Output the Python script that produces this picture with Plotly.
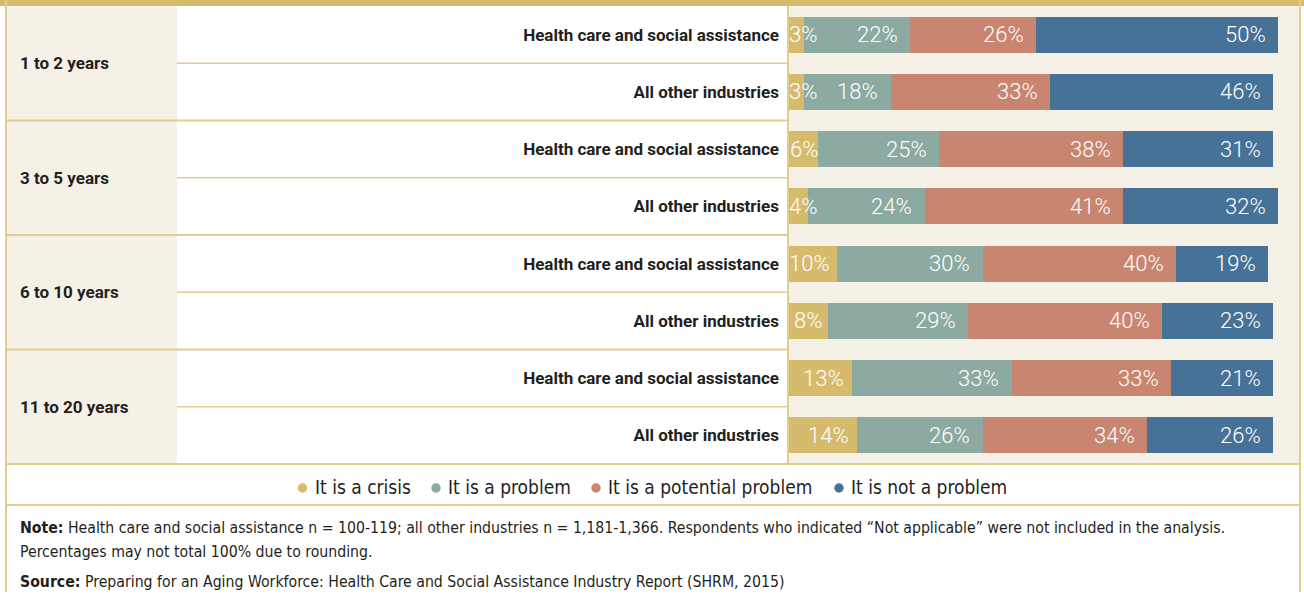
import plotly.graph_objects as go

# ---------------- data ----------------
groups = ["1 to 2 years", "3 to 5 years", "6 to 10 years", "11 to 20 years"]
industries = ["Health care and social assistance", "All other industries"]
series_names = ["It is a crisis", "It is a problem", "It is a potential problem", "It is not a problem"]
crisis = [3, 3, 6, 4, 10, 8, 13, 14]
problem = [22, 18, 25, 24, 30, 29, 33, 26]
potential = [26, 33, 38, 41, 40, 40, 33, 34]
not_problem = [50, 46, 31, 32, 19, 23, 21, 26]

note_text = ("<b>Note:</b> Health care and social assistance n = 100-119; all other industries n = 1,181-1,366. "
             "Respondents who indicated \u201cNot applicable\u201d were not included in the analysis.")
note_text2 = "Percentages may not total 100% due to rounding."
source_text = ("<b>Source:</b> Preparing for an Aging Workforce: Health Care and Social Assistance "
               "Industry Report (SHRM, 2015)")

# ---------------- style ----------------
W, H = 1304, 594
colors = ["#D6BB6D", "#8CAAA1", "#C8856F", "#477297"]
beige = "#F6F1E7"
gold = "#D6BB6D"
line_gold = "#E3CD8C"
dark = "#231F20"
REG = "DejaVu Sans Condensed, sans-serif"
BOLD = "Roboto, DejaVu Sans Condensed, sans-serif"
NUM = "Roboto, DejaVu Sans Condensed, sans-serif"

X0, X1 = 789, 1300      # bar panel (px)
PX_PER = 4.84           # px per percent
Y0, Y1 = 6, 464         # rows (px)
LEFT, MID = 6, 177


def px(x):
    return x / W


def py(y):
    return 1 - y / H


series = [crisis, problem, potential, not_problem]
n_rows = len(crisis)
row_y = list(range(n_rows))
row_labels = [industries[i % 2] for i in range(n_rows)]

fig = go.Figure()
for name, vals, col in zip(series_names, series, colors):
    fig.add_trace(go.Bar(
        y=row_y, x=vals, orientation="h", name=name,
        marker=dict(color=col, line=dict(width=0)),
        width=0.63, showlegend=False, hoverinfo="x+name",
    ))

annotations = []
# segment labels
cum = [0] * n_rows
for vals in series:
    for i, v in enumerate(vals):
        start = cum[i]
        end = start + v
        if v >= 15:
            x, anchor = end - 2.1, "right"
        elif v >= 10:
            x, anchor = end - 1.2, "right"
        else:
            x, anchor = max(start + v / 2, start + 2.8), "center"
        annotations.append(dict(
            x=x, y=i, xref="x", yref="y", text=f"{v}%", showarrow=False,
            xanchor=anchor, yanchor="middle",
            font=dict(family=NUM, size=22, color="white", weight=300),
        ))
        cum[i] = end

# group labels
for g, name in enumerate(groups):
    annotations.append(dict(
        x=px(18), y=2 * g + 0.5, xref="paper", yref="y", text=name, showarrow=False,
        xanchor="left", yanchor="middle",
        font=dict(family=BOLD, size=17, color=dark, weight="bold"),
    ))

# legend (text)
legend_text_x = [313, 446, 606, 849]
legend_dot_x = [302.5, 436, 596, 839]
for name, tx in zip(series_names, legend_text_x):
    annotations.append(dict(
        x=px(tx), y=py(487), xref="paper", yref="paper", text=name, showarrow=False,
        xanchor="left", yanchor="middle",
        font=dict(family=REG, size=19, color=dark),
    ))

# notes
for txt, yy in [(note_text, 527), (note_text2, 551), (source_text, 581)]:
    annotations.append(dict(
        x=px(18), y=py(yy), xref="paper", yref="paper", text=txt, showarrow=False,
        xanchor="left", yanchor="middle", align="left",
        font=dict(family=REG, size=15.7, color=dark),
    ))

shapes = []
# backgrounds
shapes.append(dict(type="rect", xref="paper", yref="paper", x0=px(LEFT), x1=px(MID),
                   y0=py(Y1), y1=py(Y0), fillcolor=beige, line=dict(width=0), layer="below"))
# top gold band
shapes.append(dict(type="rect", xref="paper", yref="paper", x0=0, x1=1,
                   y0=py(6), y1=1, fillcolor=gold, line=dict(width=0), layer="above"))
# sub-row separators (middle column only)
for k in range(0, n_rows, 2):
    shapes.append(dict(type="line", xref="paper", yref="y", x0=px(MID), x1=px(X0 - 1),
                       y0=k + 0.5, y1=k + 0.5, line=dict(color=line_gold, width=1.5)))
# group separators
for k in range(1, n_rows - 1, 2):
    shapes.append(dict(type="line", xref="paper", yref="y", x0=px(LEFT), x1=px(X0 - 1),
                       y0=k + 0.5, y1=k + 0.5, line=dict(color=line_gold, width=2)))
# table bottom / legend borders
for yy in [Y1, 505]:
    shapes.append(dict(type="line", xref="paper", yref="paper", x0=px(LEFT), x1=px(X1),
                       y0=py(yy), y1=py(yy), line=dict(color=line_gold, width=2)))
# vertical lines
shapes.append(dict(type="line", xref="paper", yref="paper", x0=px(X0 - 1), x1=px(X0 - 1),
                   y0=py(Y1), y1=py(Y0), line=dict(color=line_gold, width=2)))
for xx in [LEFT, X1]:
    shapes.append(dict(type="line", xref="paper", yref="paper", x0=px(xx), x1=px(xx),
                       y0=py(592), y1=1, line=dict(color=line_gold, width=2)))
# legend dots
for col, dx in zip(colors, legend_dot_x):
    shapes.append(dict(type="circle", xref="paper", yref="paper", xsizemode="pixel",
                       ysizemode="pixel", xanchor=px(dx), yanchor=py(488),
                       x0=-4.7, x1=4.7, y0=-4.7, y1=4.7,
                       fillcolor=col, line=dict(width=0)))

fig.update_layout(
    width=W, height=H,
    margin=dict(l=0, r=0, t=0, b=0),
    barmode="stack", bargap=0,
    paper_bgcolor="white", plot_bgcolor=beige,
    xaxis=dict(domain=[px(X0), px(X1)], range=[0, (X1 - X0) / PX_PER],
               showgrid=False, zeroline=False, showticklabels=False, fixedrange=True),
    yaxis=dict(domain=[py(Y1), py(Y0)], range=[n_rows - 0.5, -0.5],
               tickvals=row_y, ticktext=row_labels, ticks="", ticklabelstandoff=9,
               tickfont=dict(family=BOLD, size=17, color=dark, weight="bold"),
               showgrid=False, zeroline=False, fixedrange=True),
    annotations=annotations, shapes=shapes,
    showlegend=False,
)

fig.write_html(
    "out.html",
    config={"displayModeBar": False},
    post_script="document.body.style.margin='0';document.body.style.padding='0';"
                "document.body.style.overflow='hidden';",
)
